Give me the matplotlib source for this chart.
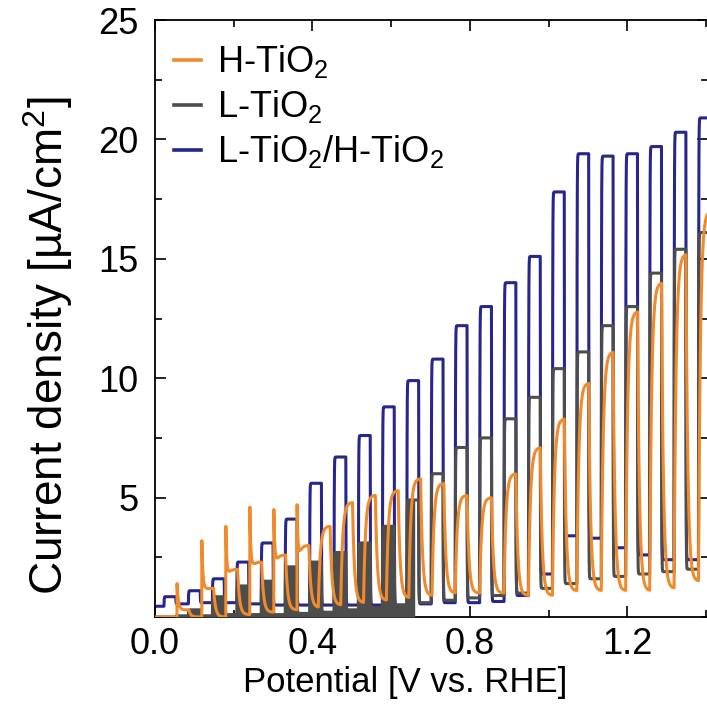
import matplotlib
matplotlib.use("Agg")
import matplotlib.pyplot as plt
import numpy as np
from matplotlib.lines import Line2D
from matplotlib.ticker import MultipleLocator

plt.rcParams["font.family"] = ["Liberation Sans", "DejaVu Sans"]
plt.rcParams["mathtext.default"] = "regular"

# ── data (chopped-light LSV) ──────────────────────────────────────────────────
# potential [V vs RHE] where each light pulse starts (blue + grey scans)
PULSE_START = [0.023, 0.085, 0.146, 0.208, 0.270, 0.331, 0.393, 0.455, 0.517, 0.578,
               0.640, 0.702, 0.763, 0.825, 0.887, 0.949, 1.010, 1.072, 1.134, 1.196,
               1.257, 1.319, 1.381]
# the H-TiO2 scan lags by about half a chop at low bias
ORANGE_START = [0.056, 0.119, 0.180, 0.241, 0.302, 0.361, 0.415, 0.472, 0.530, 0.588,
                0.645, 0.704, 0.763, 0.825, 0.887, 0.949, 1.010, 1.072, 1.134, 1.196,
                1.257, 1.319, 1.381]
PULSE_LEN = 0.030   # light-on width in V

# L-TiO2/H-TiO2 (blue)
BLUE_ON  = [0.85, 1.1, 1.6, 2.3, 3.1, 4.1, 5.6, 6.7, 7.6, 8.8, 9.9, 10.8, 12.2, 13.0,
            14.0, 15.1, 17.8, 19.4, 19.3, 19.4, 19.7, 20.3, 20.9]
BLUE_OFF = [0.55, 0.6, 0.6, 0.55, 0.5, 0.5, 0.5, 0.5, 0.5, 0.5, 0.55, 0.6, 0.6, 0.65,
            0.9, 1.8, 3.4, 3.3, 2.9, 2.6, 2.4, 2.4, 2.5]
BLUE_START = 0.45

# L-TiO2 (grey)
GREY_ON  = [0.0, 0.3, 0.85, 1.3, 1.5, 2.1, 2.3, 2.7, 3.1, 3.8, 4.9, 6.0, 7.1, 7.5,
            8.3, 9.2, 10.4, 11.1, 12.2, 13.0, 14.4, 15.4, 16.1]
GREY_OFF = [0.05, 0.05, 0.1, 0.1, 0.1, 0.15, 0.2, 0.3, 0.4, 0.5, 0.6, 0.7, 0.8, 0.9,
            1.0, 1.2, 1.4, 1.6, 1.7, 1.8, 1.9, 2.0, 2.1]
GREY_NOISY_UNTIL = 0.66   # below this the grey trace is a dense noisy band

# H-TiO2 (orange)
ORANGE_ON    = [0.3, 1.2, 2.0, 2.3, 2.6, 3.0, 3.8, 4.8, 5.1, 5.3, 5.8, 5.6, 5.1, 5.0,
                6.0, 7.1, 8.3, 9.8, 11.1, 12.8, 14.0, 15.2, 17.0]
ORANGE_OFF   = [0.0, 0.0, 0.1, 0.2, 0.3, 0.4, 0.5, 0.6, 0.7, 0.8, 0.9, 1.0, 1.0, 1.0,
                0.9, 0.9, 1.1, 1.1, 1.1, 1.1, 1.2, 1.5, 1.4]
ORANGE_SPIKE = [1.4, 3.2, 3.8, 4.6, 4.5, 4.7]   # transient peaks of the first pulses

C_ORANGE = "#F08A2A"
C_GREY   = "#4D4D4D"
C_BLUE   = "#26268C"


def chopped_trace(v, starts, on_vals, off_vals, start_val, tau):
    target = np.full_like(v, start_val)
    for k, s in enumerate(starts):
        target[(v >= s) & (v < s + PULSE_LEN)] = on_vals[k]
        target[v >= s + PULSE_LEN] = off_vals[k]
    out = np.empty_like(target)
    out[0] = target[0]
    a = min((v[1] - v[0]) / tau, 1.0)
    for i in range(1, len(v)):
        out[i] = out[i - 1] + (target[i] - out[i - 1]) * a
    return out


v = np.arange(0.0, 1.42, 0.0002)
blue = chopped_trace(v, PULSE_START, BLUE_ON, BLUE_OFF, BLUE_START, 0.0006)
grey = chopped_trace(v, PULSE_START, GREY_ON, GREY_OFF, 0.0, 0.0006)
orange = chopped_trace(v, ORANGE_START, ORANGE_ON, ORANGE_OFF, 0.0, 0.005)
for k, peak in enumerate(ORANGE_SPIKE):
    s = ORANGE_START[k]
    m = (v >= s) & (v < s + PULSE_LEN)
    orange[m] += (peak - orange[m]) * np.exp(-(v[m] - s) / 0.004)

# ── figure ────────────────────────────────────────────────────────────────────
fig = plt.figure(figsize=(7.07, 7.08), dpi=100)
ax = fig.add_axes([155 / 707, 91 / 708, 553 / 707, 597 / 708])

ax.plot(v, blue, color=C_BLUE, lw=2.2, zorder=2)
noisy = v < GREY_NOISY_UNTIL
ax.fill_between(v, 0, grey, where=noisy, color=C_GREY, lw=0, zorder=3)
ax.plot(v, grey, color=C_GREY, lw=2.2, zorder=3)
ax.plot(v, orange, color=C_ORANGE, lw=2.2, zorder=4)

ax.set_xlim(0, 1.405)
ax.set_ylim(0, 25)
ax.xaxis.set_major_locator(MultipleLocator(0.4))
ax.xaxis.set_minor_locator(MultipleLocator(0.2))
ax.set_yticks([5, 10, 15, 20, 25])
ax.yaxis.set_minor_locator(MultipleLocator(2.5))
ax.tick_params(which="both", direction="in", top=True, right=True, labelsize=26, width=1.2)
ax.tick_params(which="major", length=8)
ax.tick_params(which="minor", length=5)
ax.tick_params(axis="x", which="major", pad=7)
ax.tick_params(axis="y", which="major", pad=12)
for sp in ax.spines.values():
    sp.set_linewidth(1.3)

ax.set_xlabel("Potential [V vs. RHE]", fontsize=25)
ax.xaxis.set_label_coords((405 - 155) / 553, -0.082)
ax.set_ylabel("Current density [µA/cm$^2$]", fontsize=33)
ax.yaxis.set_label_coords(-0.145, 0.455)

handles = [Line2D([], [], color=C_ORANGE, lw=2.6),
           Line2D([], [], color=C_GREY, lw=2.6),
           Line2D([], [], color=C_BLUE, lw=2.6)]
labels = ["H-TiO$_2$", "L-TiO$_2$", "L-TiO$_2$/H-TiO$_2$"]
ax.legend(handles, labels, loc="upper left", frameon=False, fontsize=26,
          handlelength=0.75, handletextpad=0.45, labelspacing=0.22,
          borderaxespad=0.0, bbox_to_anchor=(0.008, 0.985))

fig.savefig("out.png", dpi=100)
